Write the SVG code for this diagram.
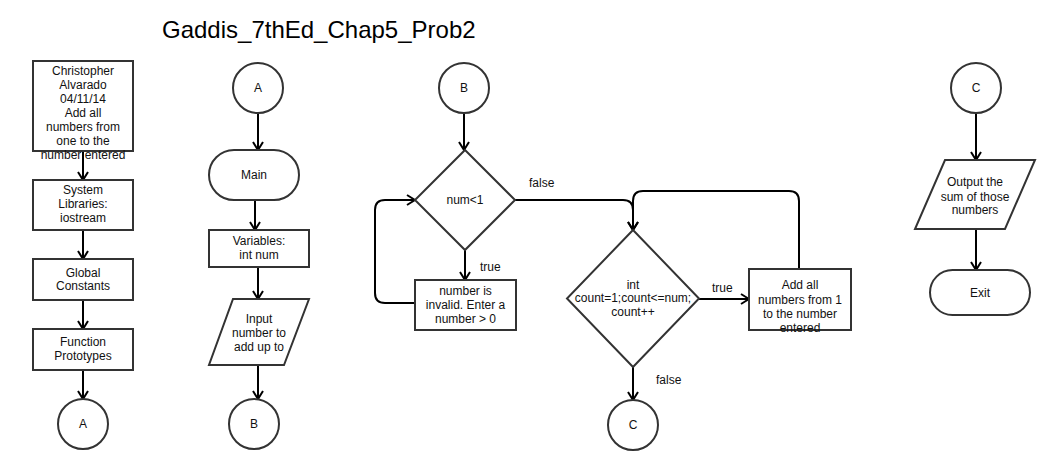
<svg xmlns="http://www.w3.org/2000/svg" width="1050" height="470" viewBox="0 0 1050 470">
<style>
.s{fill:#fff;stroke:#333;stroke-width:2}
.t{font-family:"Liberation Sans",Arial,sans-serif;font-size:12px;fill:#111;text-anchor:middle}
.l{font-family:"Liberation Sans",Arial,sans-serif;font-size:12px;fill:#111}
.c{fill:none;stroke:#000;stroke-width:2;marker-end:url(#ah)}
.title{font-family:"Liberation Sans",Arial,sans-serif;font-size:24px;fill:#000}
</style>
<defs>
<marker id="ah" markerUnits="userSpaceOnUse" viewBox="0 0 10 12" refX="9" refY="6" markerWidth="10" markerHeight="12" orient="auto">
<path d="M1,1 L9,6 L1,11" fill="none" stroke="#000" stroke-width="2"/>
</marker>
</defs>
<rect width="1050" height="470" fill="#fff"/>
<text class="title" x="162" y="38">Gaddis_7thEd_Chap5_Prob2</text>

<g id="connectors">
<path class="c" d="M83,151 L83,180"/>
<path class="c" d="M83,230 L83,259"/>
<path class="c" d="M83,300 L83,329"/>
<path class="c" d="M83,370 L83,399"/>
<path class="c" d="M258,113 L258,150"/>
<path class="c" d="M255,200 L255,230"/>
<path class="c" d="M258,267 L258,299"/>
<path class="c" d="M258,365 L258,399"/>
<path class="c" d="M464,113 L464,150"/>
<path class="c" d="M465,250 L465,280"/>
<path class="c" d="M415,303 L385,303 Q375,303 375,293 L375,210 Q375,200 385,200 L415,200"/>
<path class="c" d="M515,200 L623,200 Q633,200 633,210 L633,230"/>
<path class="c" d="M799,269 L799,201 Q799,191 789,191 L643,191 Q633,191 633,201 L633,230"/>
<path class="c" d="M699,299 L749,299"/>
<path class="c" d="M633,367 L633,400"/>
<path class="c" d="M976,113 L976,160"/>
<path class="c" d="M976,229 L976,270"/>
<text class="l" x="529" y="187">false</text>
<text class="l" x="480" y="271">true</text>
<text class="l" x="712" y="292">true</text>
<text class="l" x="656" y="384">false</text>
</g>

<g id="n-header">
<rect class="s" x="33" y="61" width="100" height="90"/>
<text class="t" x="83" y="75">Christopher</text>
<text class="t" x="83" y="89">Alvarado</text>
<text class="t" x="83" y="103">04/11/14</text>
<text class="t" x="83" y="117">Add all</text>
<text class="t" x="83" y="131">numbers from</text>
<text class="t" x="83" y="145">one to the</text>
<text class="t" x="83" y="159">number entered</text>
</g>
<g id="n-syslib">
<rect class="s" x="33" y="180" width="100" height="50"/>
<text class="t" x="83" y="194">System</text>
<text class="t" x="83" y="208">Libraries:</text>
<text class="t" x="83" y="222">iostream</text>
</g>
<g id="n-global">
<rect class="s" x="33" y="259" width="100" height="41"/>
<text class="t" x="83" y="277">Global</text>
<text class="t" x="83" y="290">Constants</text>
</g>
<g id="n-proto">
<rect class="s" x="33" y="329" width="100" height="41"/>
<text class="t" x="83" y="346">Function</text>
<text class="t" x="83" y="360">Prototypes</text>
</g>
<g id="n-A1">
<circle class="s" cx="83" cy="424" r="25"/>
<text class="t" x="83" y="428">A</text>
</g>

<g id="n-A2">
<circle class="s" cx="258" cy="88" r="25"/>
<text class="t" x="258" y="92">A</text>
</g>
<g id="n-main">
<rect class="s" x="209" y="150" width="90" height="50" rx="25" ry="25"/>
<text class="t" x="254" y="179">Main</text>
</g>
<g id="n-vars">
<rect class="s" x="209" y="230" width="100" height="37"/>
<text class="t" x="259" y="245">Variables:</text>
<text class="t" x="259" y="259">int num</text>
</g>
<g id="n-input">
<polygon class="s" points="233,299 309,299 284,365 209,365"/>
<text class="t" x="259" y="323">Input</text>
<text class="t" x="259" y="337">number to</text>
<text class="t" x="259" y="351">add up to</text>
</g>
<g id="n-B1">
<circle class="s" cx="254" cy="424" r="25"/>
<text class="t" x="254" y="428">B</text>
</g>

<g id="n-B2">
<circle class="s" cx="464" cy="88" r="25"/>
<text class="t" x="464" y="92">B</text>
</g>
<g id="n-check">
<polygon class="s" points="465,150 515,200 465,250 415,200"/>
<text class="t" x="465" y="204">num&lt;1</text>
</g>
<g id="n-invalid">
<rect class="s" x="415" y="280" width="101" height="50"/>
<text class="t" x="465.5" y="295">number is</text>
<text class="t" x="465.5" y="309">invalid. Enter a</text>
<text class="t" x="465.5" y="323">number &gt; 0</text>
</g>
<g id="n-loop">
<polygon class="s" points="633,230 699,298.5 633,367 567,298.5"/>
<text class="t" x="633" y="289">int</text>
<text class="t" x="633" y="302">count=1;count&lt;=num;</text>
<text class="t" x="633" y="316">count++</text>
</g>
<g id="n-add">
<rect class="s" x="749" y="269" width="102" height="61"/>
<text class="t" x="800" y="289">Add all</text>
<text class="t" x="800" y="304">numbers from 1</text>
<text class="t" x="800" y="318">to the number</text>
<text class="t" x="800" y="332">entered</text>
</g>
<g id="n-C1">
<circle class="s" cx="633" cy="425" r="25"/>
<text class="t" x="633" y="429">C</text>
</g>

<g id="n-C2">
<circle class="s" cx="976" cy="88" r="25"/>
<text class="t" x="976" y="92">C</text>
</g>
<g id="n-output">
<polygon class="s" points="945,160 1035,160 1005,229 915,229"/>
<text class="t" x="975" y="186">Output the</text>
<text class="t" x="975" y="201">sum of those</text>
<text class="t" x="975" y="214">numbers</text>
</g>
<g id="n-exit">
<rect class="s" x="930" y="270" width="100" height="45" rx="22.5" ry="22.5"/>
<text class="t" x="980" y="297">Exit</text>
</g>
</svg>
